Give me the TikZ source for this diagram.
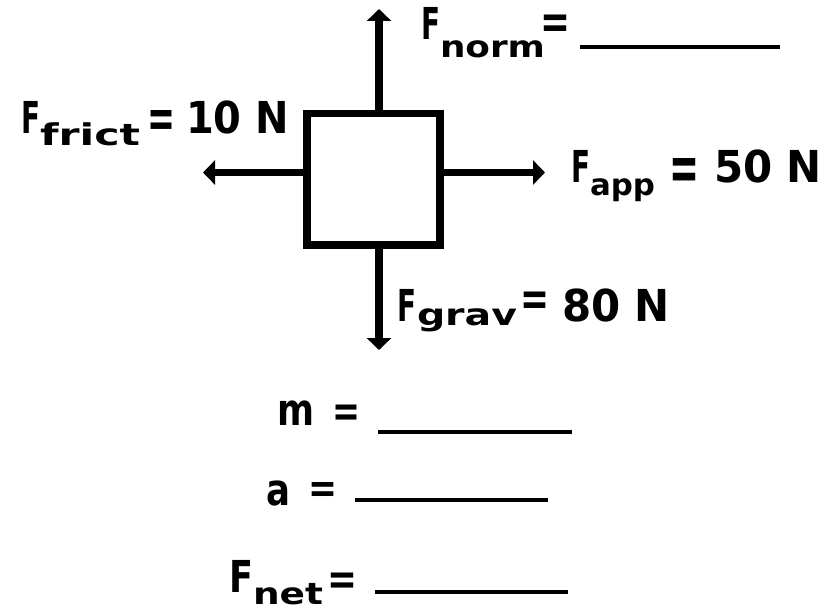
\documentclass[tikz,border=0pt]{standalone}
\usepackage{fontspec}
\setmainfont{DejaVu Sans}
\usetikzlibrary{arrows.meta}
\newcommand{\fw}[2]{\resizebox{#1}{\height}{#2}}
\newcommand{\eqsign}[2]{\resizebox{#1}{#2}{=}}
\begin{document}
\begin{tikzpicture}[x=1pt,y=-1pt,
  big/.style={font=\bfseries\fontsize{44}{44}\selectfont, inner sep=0pt, outer sep=0pt, anchor=base west},
  small/.style={font=\bfseries\fontsize{30}{30}\selectfont, inner sep=0pt, outer sep=0pt, anchor=base west},
  eq/.style={font=\bfseries\fontsize{40}{40}\selectfont, inner sep=0pt, outer sep=0pt, anchor=north},
  force/.style={line width=7.5pt, -{Triangle[width=24pt,length=12pt]}},
  blank/.style={line width=4pt}]
\useasboundingbox (0,0) rectangle (832,610);
\fill[white] (0,0) rectangle (832,610);
% block
\node[draw, line width=7.5pt, minimum width=133pt, minimum height=131.5pt, inner sep=0pt] (box) at (373.5,179) {};
% arrow tips
\coordinate (tn) at (379,9);
\coordinate (ts) at (379,350);
\coordinate (tw) at (203,172.5);
\coordinate (te) at (545,172.5);
\draw[force] (box.north -| tn) -- (tn);
\draw[force] (box.south -| ts) -- (ts);
\draw[force] (box.west |- tw) -- (tw);
\draw[force] (box.east |- te) -- (te);
% F norm
\node[big] (fnF) at (421,40) {\fw{19pt}{F}};
\node[small] (fnS) at (440,57) {\fw{105pt}{norm}};
\node[eq] (fnE) at (555.5,15) {\eqsign{30pt}{23.5pt}};
\draw[blank] (580,47) -- (780,47);
% F frict
\node[big] (ffF) at (21,133) {\fw{19pt}{F}};
\node[small] (ffS) at (40,145) {\fw{100pt}{frict}};
\node[eq] (ffE) at (161.5,110) {\eqsign{28pt}{27pt}};
\node[big] (ffV) at (186,133) {\fw{103pt}{10 N}};
% F app
\node[big] (faF) at (571,182) {\fw{19pt}{F}};
\node[small] (faS) at (590,195) {\fw{65pt}{app}};
\node[eq] (faE) at (684.5,158) {\eqsign{30pt}{32pt}};
\node[big] (faV) at (714,182) {\fw{108pt}{50 N}};
% F grav
\node[big] (fgF) at (397,321) {\fw{19pt}{F}};
\node[small] (fgS) at (417,325) {\fw{100pt}{grav}};
\node[eq] (fgE) at (535,292) {\eqsign{29pt}{23.5pt}};
\node[big] (fgV) at (562,321) {\fw{108pt}{80 N}};
% m
\node[big] (mL) at (277,425) {\fw{37pt}{m}};
\node[eq] (mE) at (346.5,405) {\eqsign{28pt}{21.5pt}};
\draw[blank] (378,432) -- (572,432);
% a
\node[big] (aL) at (266,505) {\fw{24pt}{a}};
\node[eq] (aE) at (323,482) {\eqsign{29pt}{20pt}};
\draw[blank] (355,499.5) -- (548,499.5);
% F net
\node[big] (fnetF) at (229,592) {\fw{24pt}{F}};
\node[small] (fnetS) at (253,604) {\fw{70pt}{net}};
\node[eq] (fnetE) at (342.5,573) {\eqsign{30pt}{21.5pt}};
\draw[blank] (375,592) -- (568,592);
\end{tikzpicture}
\end{document}
